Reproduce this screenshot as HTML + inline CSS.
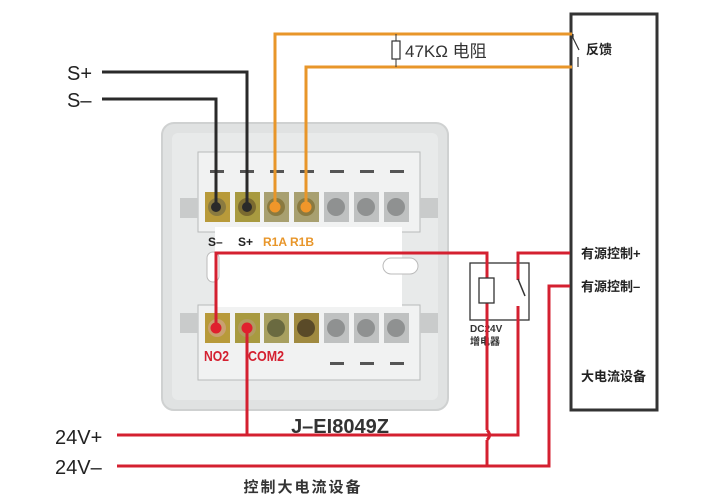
<!DOCTYPE html>
<html><head><meta charset="utf-8"><style>
html,body{margin:0;padding:0;background:#fff;}
svg{display:block;}
text{font-family:"Liberation Sans","Noto Sans CJK SC",sans-serif;}
</style></head><body>
<svg width="720" height="500" viewBox="0 0 720 500" xmlns="http://www.w3.org/2000/svg">
<!-- plate -->
<rect x="162" y="123" width="286" height="287" rx="12" fill="#e0e2e2" stroke="#cfd1d1" stroke-width="2"/>
<rect x="172" y="133" width="266" height="267" rx="6" fill="#e8eaea"/>
<rect x="198" y="152" width="222" height="80" fill="#f1f2f2" stroke="#b8baba"/>
<rect x="198" y="305" width="222" height="75" fill="#f1f2f2" stroke="#b8baba"/>
<rect x="215" y="227" width="187" height="80" fill="#fff"/>
<rect x="180" y="198" width="18" height="20" fill="#c9cbcb"/>
<rect x="420" y="198" width="18" height="20" fill="#c9cbcb"/>
<rect x="180" y="313" width="18" height="20" fill="#c9cbcb"/>
<rect x="420" y="313" width="18" height="20" fill="#c9cbcb"/>
<rect x="383" y="258" width="35" height="16" rx="8" fill="#fff" stroke="#bbb"/>
<rect x="207" y="252" width="12" height="30" rx="6" fill="#fff" stroke="#bbb"/>
<g fill="#555">
<rect x="210" y="170" width="14" height="3"/><rect x="240" y="170" width="14" height="3"/><rect x="270" y="170" width="14" height="3"/><rect x="300" y="170" width="14" height="3"/>
<rect x="330" y="170" width="14" height="3"/><rect x="360" y="170" width="14" height="3"/><rect x="390" y="170" width="14" height="3"/>
<rect x="330" y="362" width="14" height="3"/><rect x="360" y="362" width="14" height="3"/><rect x="390" y="362" width="14" height="3"/>
</g>
<g>
<rect x="205" y="192" width="25" height="30" fill="#b89a3a"/><circle cx="217" cy="207" r="9" fill="#8a7a40"/>
<rect x="235" y="192" width="25" height="30" fill="#a89a40"/><circle cx="247" cy="207" r="9" fill="#7a6a30"/>
<rect x="264" y="192" width="25" height="30" fill="#a8a070"/><circle cx="276" cy="207" r="9" fill="#8a7a40"/>
<rect x="294" y="192" width="25" height="30" fill="#a8a070"/><circle cx="306" cy="207" r="9" fill="#8a7a40"/>
<rect x="324" y="192" width="25" height="30" fill="#bfc1c1"/><circle cx="336" cy="207" r="9" fill="#8f9191"/>
<rect x="354" y="192" width="25" height="30" fill="#bfc1c1"/><circle cx="366" cy="207" r="9" fill="#8f9191"/>
<rect x="384" y="192" width="25" height="30" fill="#bfc1c1"/><circle cx="396" cy="207" r="9" fill="#8f9191"/>
</g>
<g>
<rect x="205" y="313" width="25" height="30" fill="#b89a3a"/><circle cx="217" cy="328" r="9" fill="#c9a070"/>
<rect x="235" y="313" width="25" height="30" fill="#a89a40"/><circle cx="247" cy="328" r="9" fill="#b09a60"/>
<rect x="264" y="313" width="25" height="30" fill="#a8a060"/><circle cx="276" cy="328" r="9" fill="#6a6a40"/>
<rect x="294" y="313" width="25" height="30" fill="#a08a40"/><circle cx="306" cy="328" r="9" fill="#5a4a28"/>
<rect x="324" y="313" width="25" height="30" fill="#bfc1c1"/><circle cx="336" cy="328" r="9" fill="#8f9191"/>
<rect x="354" y="313" width="25" height="30" fill="#bfc1c1"/><circle cx="366" cy="328" r="9" fill="#8f9191"/>
<rect x="384" y="313" width="25" height="30" fill="#bfc1c1"/><circle cx="396" cy="328" r="9" fill="#8f9191"/>
</g>
<text x="208" y="246" font-size="12" font-weight="bold" fill="#222">S–</text>
<text x="238" y="246" font-size="12" font-weight="bold" fill="#222">S+</text>
<text x="263" y="246" font-size="12" font-weight="bold" fill="#e8962a">R1A</text>
<text x="290" y="246" font-size="12" font-weight="bold" fill="#e8962a">R1B</text>
<text x="204" y="361" font-size="15" font-weight="bold" fill="#d42030" textLength="25" lengthAdjust="spacingAndGlyphs">NO2</text>
<text x="248" y="361" font-size="15" font-weight="bold" fill="#d42030" textLength="36" lengthAdjust="spacingAndGlyphs">COM2</text>

<rect x="571" y="14" width="86" height="396" fill="none" stroke="#333" stroke-width="3"/>
<text x="586" y="54" font-size="13" font-weight="bold" fill="#222">反馈</text>
<text x="581" y="258" font-size="13" font-weight="bold" fill="#222">有源控制+</text>
<text x="581" y="291" font-size="13" font-weight="bold" fill="#222">有源控制–</text>
<text x="581" y="381" font-size="13" font-weight="bold" fill="#222">大电流设备</text>

<g stroke="#2a2a2a" stroke-width="3" fill="none">
<polyline points="102,72 247,72 247,207"/>
<polyline points="102,99 216,99 216,207"/>
</g>
<circle cx="216" cy="207" r="5" fill="#2a2a2a"/>
<circle cx="247" cy="207" r="5" fill="#2a2a2a"/>
<text x="67" y="80" font-size="20" fill="#222">S+</text>
<text x="67" y="107" font-size="20" fill="#222">S–</text>

<g stroke="#e8962a" stroke-width="3" fill="none">
<polyline points="275,207 275,34 572,34"/>
<polyline points="306,207 306,67 572,67"/>
</g>
<circle cx="275" cy="207" r="5.5" fill="#f0962a"/>
<circle cx="306" cy="207" r="5.5" fill="#f0962a"/>
<line x1="396" y1="34" x2="396" y2="67" stroke="#333" stroke-width="1"/>
<rect x="392" y="41" width="8" height="18" fill="#fff" stroke="#333" stroke-width="1.2"/>
<text x="405" y="57" font-size="17" fill="#333">47KΩ 电阻</text>
<polyline points="573,34 573,38 579,50" stroke="#333" stroke-width="1.2" fill="none"/>
<line x1="578" y1="57" x2="578" y2="67" stroke="#333" stroke-width="1.2"/>

<rect x="470" y="263" width="59" height="57" fill="none" stroke="#333" stroke-width="1.3"/>
<text x="470" y="332" font-size="10" font-weight="bold" fill="#333">DC24V</text>
<text x="470" y="345" font-size="10" font-weight="bold" fill="#333">增电器</text>

<g stroke="#d42030" stroke-width="3" fill="none">
<polyline points="216,328 216,253 487,253 487,430"/>
<path d="M487,440 L487,466"/>
<path d="M487,430 Q492,435 487,440"/>
<polyline points="247,328 247,435"/>
<polyline points="117,435 518,435 518,306"/>
<polyline points="570,253 518,253 518,280"/>
<polyline points="117,466 549,466 549,286 570,286"/>
</g>
<circle cx="216" cy="328" r="5.5" fill="#e0202e"/>
<circle cx="247" cy="328" r="5.5" fill="#e0202e"/>
<line x1="518" y1="279" x2="525" y2="296" stroke="#333" stroke-width="1.5"/>
<rect x="479" y="278" width="15" height="25" fill="#fff" stroke="#333" stroke-width="1.3"/>

<text x="55" y="444" font-size="20" fill="#222">24V+</text>
<text x="55" y="474" font-size="20" fill="#222">24V–</text>
<text x="340" y="433" font-size="20" font-weight="bold" fill="#333" text-anchor="middle">J–EI8049Z</text>
<text x="303" y="492" font-size="15" font-weight="bold" fill="#333" text-anchor="middle" letter-spacing="2">控制大电流设备</text>
</svg>
</body></html>
